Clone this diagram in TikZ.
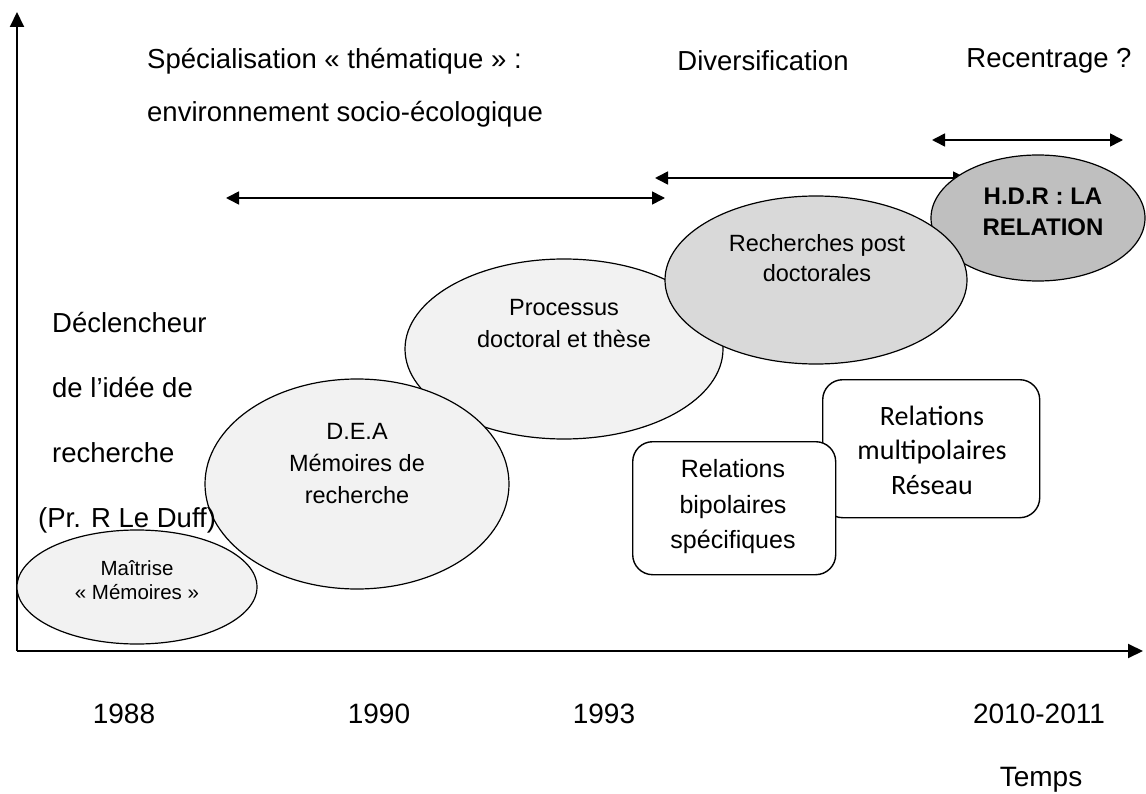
\documentclass[tikz,border=0pt]{standalone}
\usepackage{fontspec}
\setmainfont{Liberation Sans}
\newfontfamily\calibri{Carlito}
\usetikzlibrary{shapes.geometric,arrows.meta}
\definecolor{paleg}{HTML}{F2F2F2}
\definecolor{midg}{HTML}{D9D9D9}
\definecolor{darkg}{HTML}{BFBFBF}
\begin{document}
\begin{tikzpicture}[x=1pt,y=-1pt,
  axis/.style={line width=2pt,-{Triangle[length=15pt,width=14pt]}},
  span/.style={line width=1.6pt,{Triangle[length=13pt,width=13pt]}-{Triangle[length=13pt,width=13pt]}},
  blob/.style={ellipse,draw,line width=1.2pt,inner sep=0pt},
  big/.style={inner sep=0pt,font=\fontsize{27.5}{32}\selectfont},
  year/.style={inner sep=0pt,font=\fontsize{28}{32}\selectfont},
  intext/.style={inner sep=0pt,align=center,font=\fontsize{23.5}{32}\selectfont},
  relbox/.style={draw,fill=white,line width=1.4pt,rounded corners=20pt,inner sep=0pt}
]
\useasboundingbox (0,0) rectangle (1146,794);

% axes
\coordinate (O) at (17,651);
\coordinate (ytop) at (17,12);
\coordinate (xend) at (1143,651);
\draw[axis] (O) -- (ytop);
\draw[axis] (O) -- (xend);

% headings
\node[big,anchor=west] (spec) at (147,61) {Spécialisation « thématique » :};
\node[big,anchor=west] (env) at (147,114) {environnement socio-écologique};
\node[big] (div) at (763,61) {Diversification};
\node[big] (rec) at (1049,61) {Recentrage ?};

% period spans
\coordinate (s1a) at (226,198); \coordinate (s1b) at (665,198);
\coordinate (s2a) at (655,178); \coordinate (s2b) at (966,178);
\coordinate (s3a) at (932,140); \coordinate (s3b) at (1123,140);
\draw[span] (s1a) -- (s1b);
\draw[span] (s2a) -- (s2b);
\draw[span] (s3a) -- (s3b);

% stages (drawn back to front)
\node[blob,fill=paleg,minimum width=240pt,minimum height=114pt] (mait) at (137,587) {};
\node[blob,fill=paleg,minimum width=318pt,minimum height=180pt] (proc) at (564,349) {};
\node[blob,fill=paleg,minimum width=304pt,minimum height=210pt] (dea) at (357,484) {};
\node[blob,fill=darkg,minimum width=214pt,minimum height=126pt] (hdr) at (1038,218) {};
\node[blob,fill=midg,minimum width=302pt,minimum height=168pt] (post) at (816,280) {};

\node[inner sep=0pt,align=center,font=\fontsize{20.5}{24}\selectfont] (maitT) at (137,580) {Maîtrise\\« Mémoires »};
\node[intext] (procT) at (564,324) {Processus\\doctoral et thèse};
\node[intext] (deaT) at (357,464) {D.E.A\\Mémoires de\\recherche};
\node[intext,font=\bfseries\fontsize{24}{31}\selectfont] (hdrT) at (1043,212) {H.D.R : LA\\RELATION};
\node[intext,font=\fontsize{23.5}{30}\selectfont] (postT) at (817,258) {Recherches post\\doctorales};

% relation boxes
\node[relbox,minimum width=217pt,minimum height=138pt,anchor=north west] (multi) at (822,379) {};
\node[inner sep=0pt,align=center,font=\calibri\fontsize{28}{34.5}\selectfont] (multiT) at (932,450) {Relations\\multipolaires\\Réseau};
\node[relbox,minimum width=203pt,minimum height=133pt,anchor=north west] (bip) at (632,441) {};
\node[inner sep=0pt,align=center,font=\fontsize{25}{35.5}\selectfont] (bipT) at (733,507) {Relations\\bipolaires\\spécifiques};

% trigger of the research idea
\node[big,anchor=west] (dec1) at (52,323) {Déclencheur};
\node[big,anchor=west] (dec2) at (52,388) {de l’idée de};
\node[big,anchor=west] (dec3) at (52,453) {recherche};
\node[big,anchor=west] (dec4) at (38,520) {(Pr. R Le Duff)};

% time axis labels
\node[year] (y88) at (124,714) {1988};
\node[year] (y90) at (379,714) {1990};
\node[year] (y93) at (604,714) {1993};
\node[year] (y10) at (1039,714) {2010-2011};
\node[year] (temps) at (1041,780) {Temps};
\end{tikzpicture}
\end{document}
